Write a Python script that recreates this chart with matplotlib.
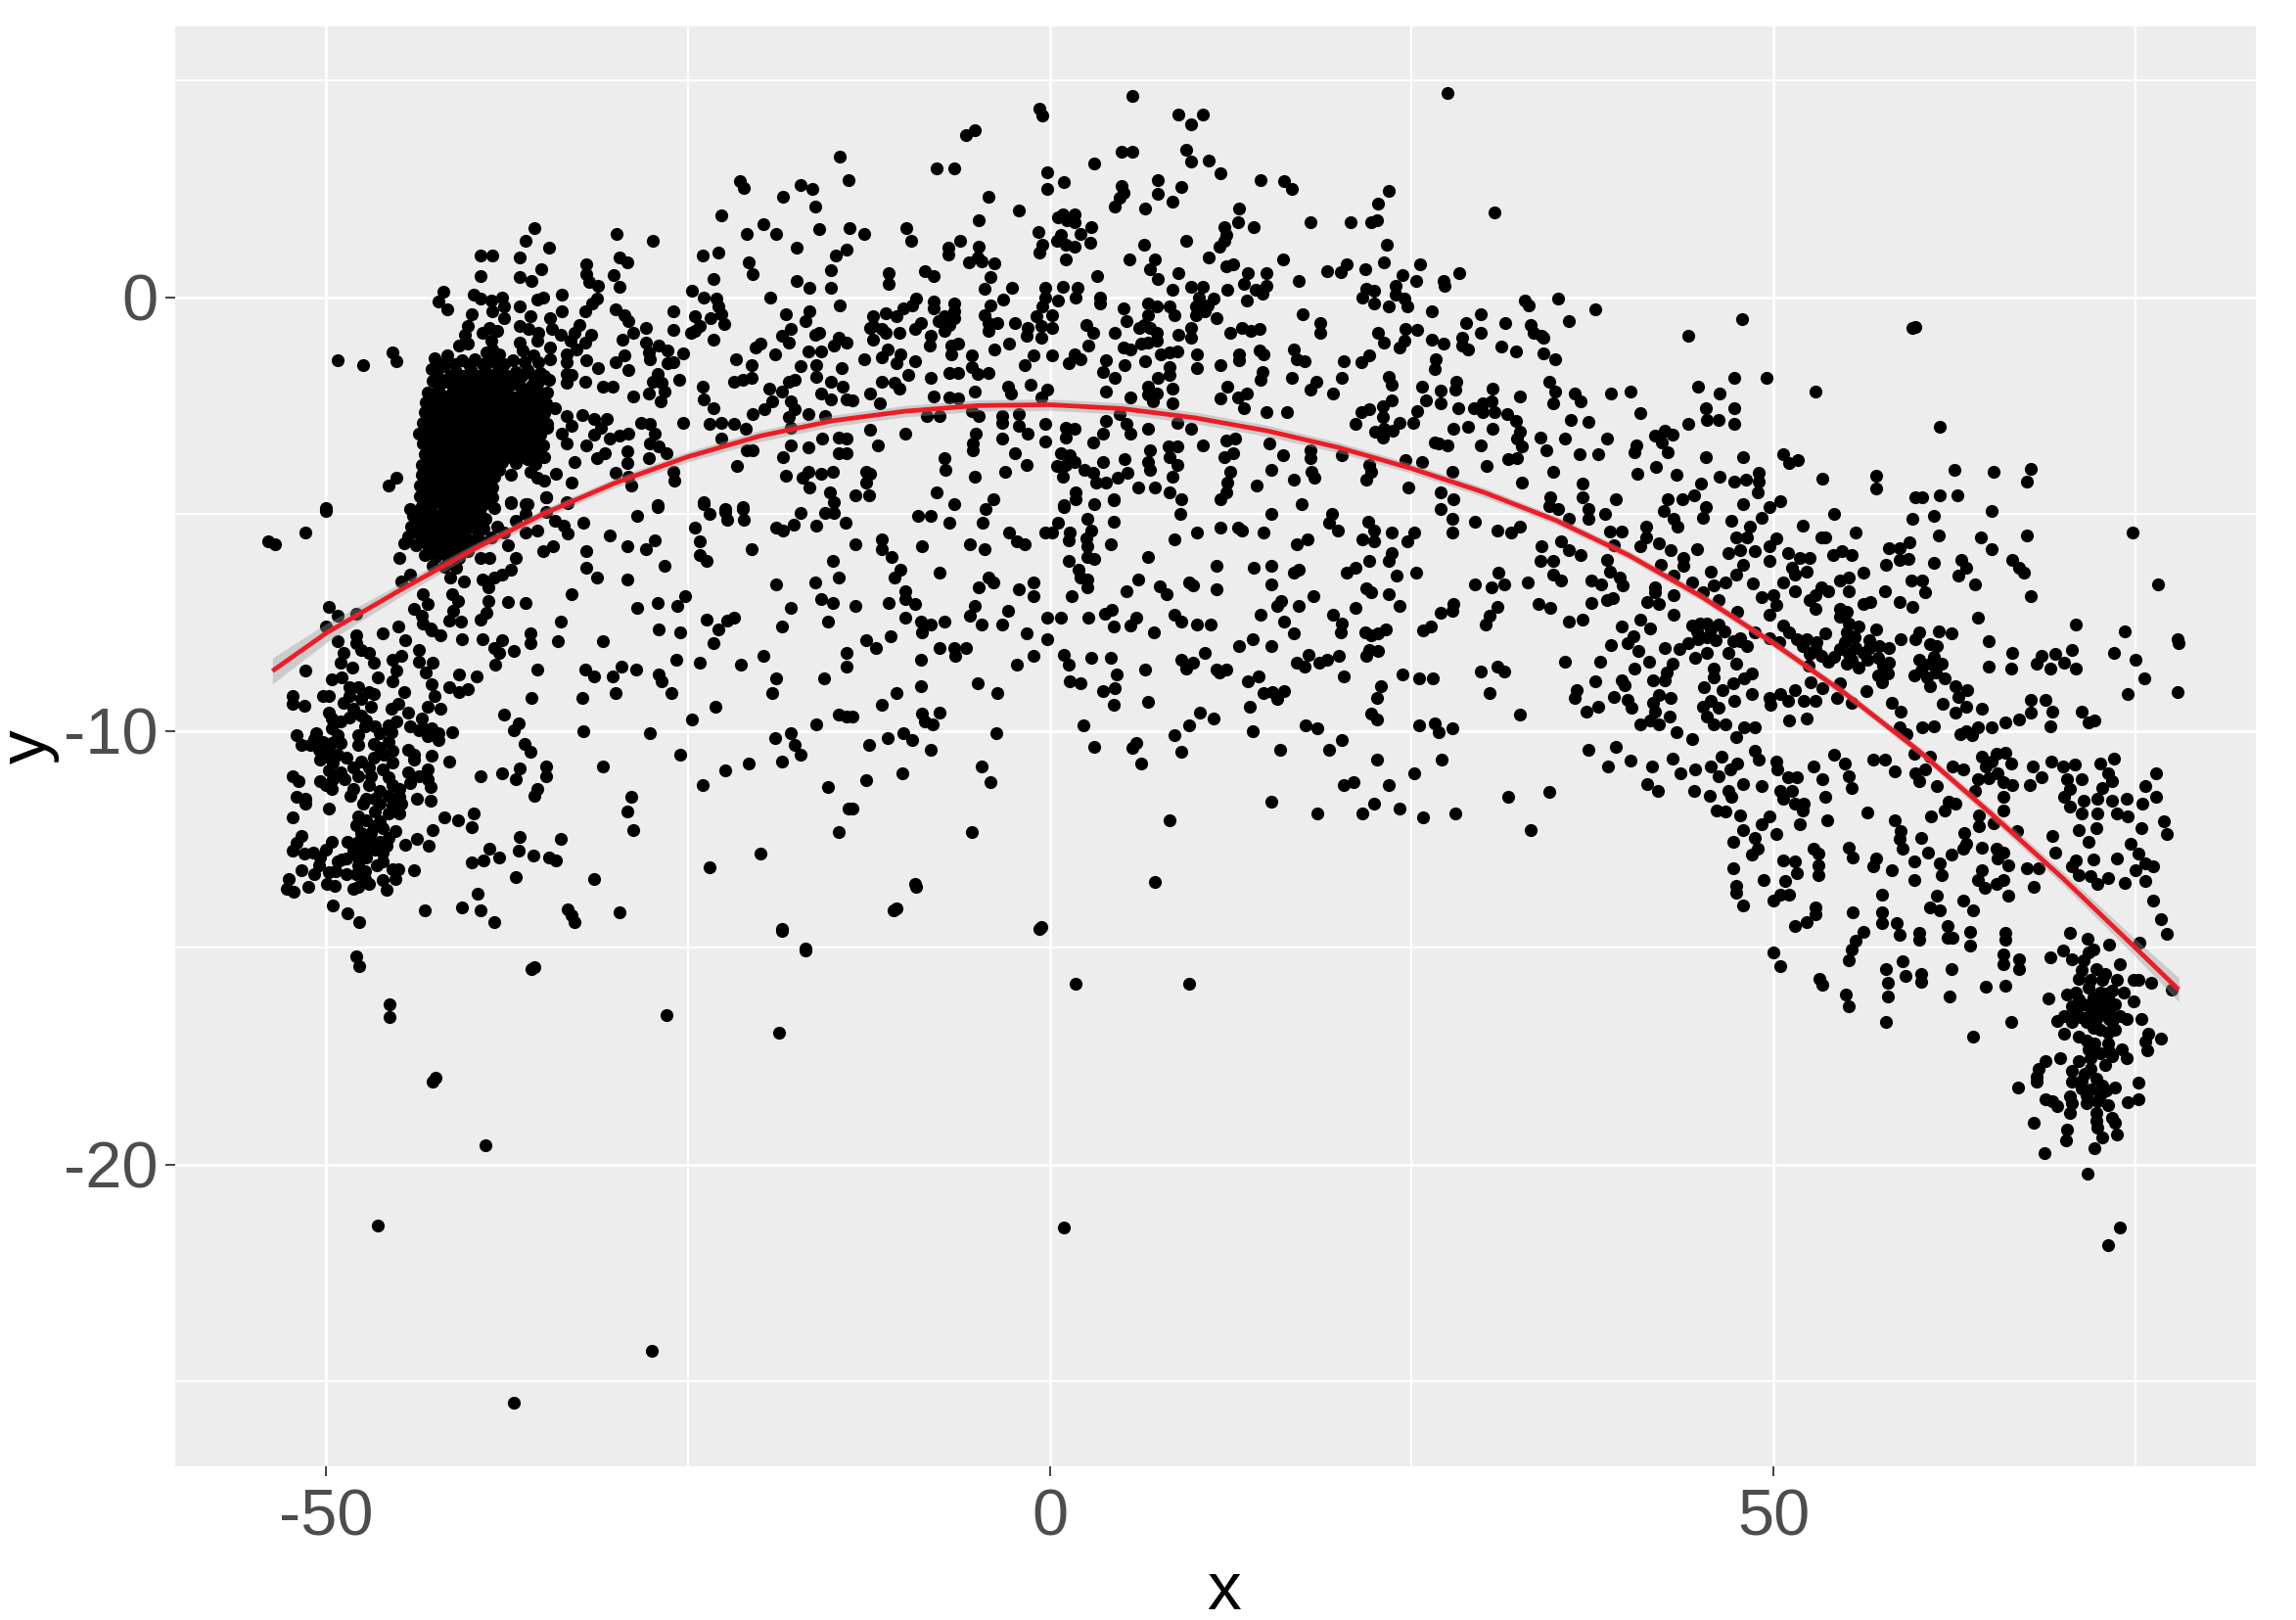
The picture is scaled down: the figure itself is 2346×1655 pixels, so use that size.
import matplotlib
matplotlib.use("Agg")
import matplotlib.pyplot as plt
import numpy as np

plt.rcParams["font.family"] = ["Liberation Sans", "DejaVu Sans"]

x_ticks = [-50, 0, 50]
x_tick_labels = ["-50", "0", "50"]
x_minor = [-25, 25, 75]
y_ticks = [0, -10, -20]
y_tick_labels = ["0", "-10", "-20"]
y_minor = [5, -5, -15, -25]

# smooth curve and its confidence band
curve_x = [-53.7, -50, -45, -40, -35, -30, -25, -20, -15, -10, -5, 0, 5, 10, 15, 20, 25, 30, 35, 40, 45, 50, 55, 60, 65, 70, 75, 78]
curve_y = [-8.62, -7.75, -6.78, -5.85, -5.0, -4.28, -3.68, -3.2, -2.85, -2.63, -2.5, -2.48, -2.57, -2.78, -3.08, -3.47, -3.95, -4.5, -5.15, -5.95, -6.9, -7.98, -9.15, -10.45, -11.9, -13.4, -15.0, -15.97]
curve_ci = [0.3, 0.22, 0.15, 0.12, 0.11, 0.11, 0.12, 0.13, 0.13, 0.13, 0.13, 0.13, 0.13, 0.13, 0.13, 0.12, 0.11, 0.11, 0.1, 0.1, 0.1, 0.1, 0.1, 0.1, 0.12, 0.15, 0.2, 0.28]

# points, region by region
top_left = [(-14.5,3.24),(-21.4,2.68),(-21.1,2.53),(-17.2,2.59),(-16.4,2.49),(-18.4,2.32),(-16.2,2.1),(-22.7,1.89),(-19.8,1.68),(-20.9,1.46),(-18.9,1.46),(-15.9,1.56),(-13.9,2.7),(-13.8,1.6),
(-35.6,1.6),(-36.2,1.29),(-34.6,1.14),(-39.3,.97),(-38.5,.97),(-36.6,.91),(-35.1,.65),(-39.3,.48),(-36.6,.46),(-35.8,.38),(-29.9,1.46),(-27.4,1.29),(-24,.97),(-22.9,1.02),(-29.7,.91),(-29.2,.8),(-32,.76),(-32,.53),(-31.8,.35),(-31.2,.27),(-30.1,.5),(-29.7,.25),
(-20.8,.8),(-20.5,.53),(-23.2,.42),(-24.7,.16),(-23.9,0),(-23,-.03),(-22.9,-.22),(-22.7,-.4),(-23.4,-.48),(-22.5,-.61),(-17.5,1.14),(-14.8,.97),(-14,1.1),(-15.1,.63),(-17.5,.37),(-16.6,.21),(-15.1,.21),(-19.3,0),(-14.5,-.18),
(-41.9,.12),(-42.2,-.1),(-41.6,-.28),(-39.8,.05),(-39.3,-.03),(-38.6,-.07),(-37.8,0),(-37.7,-.22),(-36.6,-.22),(-39.9,-.39),(-38.5,-.33),(-37.7,-.48),(-35.4,-.05),(-35,-.01),(-33.7,.05),(-33.7,-.33),(-32.1,-.33),(-31.3,-.03),(-31.6,-.14),(-30,-.29),(-29.4,-.41),(-29.1,-.56),(-28.8,-.82),(-27.9,-.71),(-29.5,-.98),(-31.7,-.87),(-26,-.33),(-26,-.76),(-24.5,-.43),(-24.5,-.78),(-24.2,-.67),(-24.8,-.83),(-23.2,-.98),
(-18.2,-.39),(-16.6,-.32),(-16.9,-.56),(-17.9,-.74),(-18.5,-.89),(-18,-1.05),(-20,-1.08),(-20.3,-1.15),(-19,-1.31),(-21.7,-1.42),(-20.6,-1.57),(-15.9,-.82),(-16.2,-.86),(-16.7,-1.26),(-15.8,-1.26),(-14.9,-1.12),(-14,-1.05),(-14.6,-.94),
(-16.1,-1.57),(-16.1,-1.83),(-17.2,-1.6),(-14.4,-1.63),(-17.6,-1.91),(-18,-1.95),(-20.6,-1.86),(-21.2,-1.91),(-21.8,-1.96),(-15.1,-1.95),(-14.3,-2.06),(-15.8,-2.21),(-15.1,-2.36),(-14,-2.36),
(-27.7,-1.27),(-27.9,-1.05),(-27,-1.12),(-26.4,-1.23),(-25.3,-1.29),(-26.4,-1.53),(-26,-1.5),(-27.6,-1.42),(-32,-1.46),(-31.2,-1.63),(-30,-1.51),(-29.4,-1.35),(-29.1,-1.68),(-32.1,-1.95),(-30.9,-2.06),(-30.2,-2.06),(-28.8,-2.29),(-27.1,-1.76),(-27.4,-1.95),(-26.8,-1.98),(-27.7,-2.23),(-26.6,-2.17),(-26.9,-2.4),(-25.6,-1.91),
(-24,-2.06),(-23.9,-2.36),(-23.2,-2.55),(-19.4,-2.1),(-18.5,-2.17),(-19.2,-2.4),(-17.9,-2.4),(-17.6,-2.59),(-18,-2.77),(-19.7,-2.59),(-20.5,-2.7),(-16.7,-2.7),(-15.5,-2.74),(-25.3,-2.89),(-23.5,-2.92),(-22.7,-2.89),(-21.8,-2.92),(-21,-3.04),(-22.7,-3.26),(-17.9,-3),(-20.9,-3.53),(-20.5,-3.53),(-21.6,-3.9),(-17.9,-3.41),(-16.7,-3.46),(-15.7,-3.26),(-14.6,-3.23),(-14,-3.26),(-14.6,-3.59),(-14,-3.6),(-18.4,-3.68),(-18.2,-4.11),(-17.1,-4.17),(-16.7,-4.02),(-15.8,-4.07),(-15,-4.02),(-16.6,-4.39),(-15.2,-4.5),(-14.9,-4.73),
(-34.2,-2.55),(-33.4,-2.74),(-34.7,-2.92),(-33,-2.96),(-33.7,-3.15),(-33.4,-3.38),(-32.3,-2.71),(-31.5,-2.81),(-30.6,-2.81),(-31,-3),(-31.5,-3.17),(-30.4,-3.26),(-29.7,-3.19),(-29.1,-3.15),(-28.2,-2.89),(-27.6,-2.92),(-27.3,-3.15),(-27.6,-3.38),(-27,-3.45),(-26.5,-3.6),(-27.7,-3.71),(-32,-3.41),(-29.2,-3.56),(-29.2,-3.83),(-30,-4.05),(-29.1,-4.13),(-28.9,-4.35),(-30.7,-3.6),(-31.3,-3.71),(-32.8,-3.8),(-34.1,-4.07),(-33,-4.28),(-35.9,-4.02),(-35.4,-4.17),(-34.9,-4.24),(-26,-4.02),(-25.9,-4.24),(-36.9,-3.83),(-37.2,-4.09),(-37.2,-4.73),(-36.1,-4.77),(-34.8,-4.62),(-33.4,-4.73),(-27.1,-4.8),(-23.9,-4.73),(-22.4,-4.88),(-21.2,-4.84),
(-49.2,-1.46),(-47.4,-1.57),(-45.4,-1.27),(-45.1,-1.48),(-45.1,-4.17),(-45.7,-4.35),(-50,-4.86),(-44.2,-4.88)]

dense_blob = [(-40.2,-.67),(-40.4,-.86),(-40.2,-1.08),(-40.8,-1.12),(-38.7,-.71),(-39.2,-.82),(-38.2,-.78),(-38.6,-1.01),(-38.5,-1.2),(-38.9,-1.27),(-38,-1.31),(-36.6,-.67),(-35.9,-.44),(-36,-.74),(-35.3,-.82),(-34.5,-.48),(-34.4,-.74),(-33.8,-.86),(-32.5,-.63),(-32.8,-.82),(-32.1,-1.05),(-33.1,-1.01),(-32.7,-1.2),(-33.4,-1.31),(-35.4,-1.01),(-36.6,-1.05),(-36.4,-1.23),(-35.7,-1.35),(-34.5,-1.16),(-34.5,-1.42),(-35.3,-1.5),(-36.3,-1.5),(-37.1,-1.46),(-33.4,-1.5),(-33.4,-1.76),(-33.4,-1.98),(-33,-1.8),
(-42.5,-1.4),(-41.6,-1.33),(-40.6,-1.45),(-39.7,-1.42),(-38.7,-1.48),(-37.7,-1.55),
(-42.7,-1.66),(-41.8,-1.6),(-41,-1.72),(-40,-1.68),(-39,-1.7),(-38.2,-1.75),(-36.9,-1.72),(-36.1,-1.68),(-35.2,-1.75),
(-42.6,-1.92),(-41.6,-1.96),(-40.7,-1.88),(-39.8,-1.94),(-38.9,-1.95),(-38,-1.98),(-37,-2),(-35.3,-1.95),(-34.6,-1.9),
(-43,-2.2),(-42.2,-2.14),(-41.3,-2.2),(-40.5,-2.16),(-39.6,-2.22),(-38.8,-2.15),(-37.9,-2.22),(-37.2,-2.3),(-36.3,-2.12),(-35.4,-2.14),(-34.7,-2.2),
(-43.1,-2.42),(-42.3,-2.38),(-41.5,-2.44),(-40.6,-2.4),(-39.8,-2.46),(-38.9,-2.4),(-38.1,-2.46),(-37.3,-2.52),(-36.5,-2.38),(-35.6,-2.4),(-34.8,-2.44),
(-43.2,-2.66),(-42.4,-2.6),(-41.6,-2.68),(-40.7,-2.64),(-39.9,-2.7),(-39,-2.64),(-38.2,-2.7),(-37.4,-2.68),(-36.6,-2.72),(-35.7,-2.66),(-34.9,-2.68),
(-43.3,-2.9),(-42.5,-2.86),(-41.7,-2.92),(-40.8,-2.88),(-40,-2.94),(-39.1,-2.88),(-38.3,-2.94),(-37.5,-2.9),(-36.7,-2.96),(-35.8,-2.9),(-35,-2.94),
(-43.6,-3.14),(-42.7,-3.1),(-41.9,-3.16),(-41,-3.12),(-40.2,-3.18),(-39.3,-3.12),(-38.5,-3.18),(-37.7,-3.14),(-36.9,-3.2),(-36,-3.14),(-35.2,-3.18),
(-43.3,-3.38),(-42.5,-3.34),(-41.7,-3.4),(-40.8,-3.36),(-40,-3.42),(-39.1,-3.36),(-38.3,-3.42),(-37.5,-3.38),(-36.6,-3.44),(-35.8,-3.38),(-35,-3.42),
(-43.2,-3.62),(-42.4,-3.58),(-41.6,-3.64),(-40.7,-3.6),(-39.9,-3.66),(-39,-3.6),(-38.2,-3.66),(-37.4,-3.62),(-36.6,-3.68),(-35.6,-3.62),(-34.9,-3.68),
(-43.4,-3.86),(-42.6,-3.82),(-41.8,-3.88),(-40.9,-3.84),(-40.1,-3.9),(-39.2,-3.84),(-38.4,-3.9),(-37.8,-3.8),(-35.5,-3.85),
(-43.4,-4.1),(-42.6,-4.06),(-41.8,-4.12),(-40.9,-4.08),(-40.1,-4.14),(-39.2,-4.08),(-38.4,-4.14),
(-43.5,-4.34),(-42.7,-4.3),(-41.9,-4.36),(-41,-4.32),(-40.2,-4.38),(-39.3,-4.32),(-38.5,-4.38),
(-43.5,-4.58),(-42.7,-4.54),(-41.9,-4.6),(-41,-4.56),(-40.2,-4.62),(-39.3,-4.56),(-38.5,-4.62),
(-43.4,-4.82),(-42.6,-4.78),(-41.8,-4.84),(-40.9,-4.8),(-40.1,-4.86),(-39.2,-4.8),(-38.4,-4.86),
(-44,-5.04),(-43.2,-5),(-42.4,-5.06),(-41.5,-5.02),(-40.7,-5.08),(-39.8,-5.02),(-39,-5.1),
(-44.1,-5.28),(-43.3,-5.24),(-42.5,-5.3),(-41.6,-5.26),(-40.8,-5.32),(-39.9,-5.26),(-39.1,-5.34),(-38.2,-5.3),
(-44.3,-5.52),(-43.5,-5.48),(-42.7,-5.54),(-41.8,-5.5),(-41,-5.56),(-40.2,-5.58),(-39.4,-5.6),(-38.6,-5.55),
(-43.8,-5.72),(-43,-5.72),(-42.2,-5.78),(-41.4,-5.74),(-40.6,-5.8),(-43.2,-5.95),(-42.4,-6),(-41.6,-5.98),(-40.8,-6.02),(-42.6,-6.2),(-41.8,-6.22),(-41,-6.25),
(-44.6,-5.68),(-44.9,-6.02),(-44.2,-6.4),(-44.8,-6.55)]

# between the rows above the blob is solid black, so these are estimates
blob_fill = [(-42.1,-1.55),(-41.1,-1.55),(-40.1,-1.55),(-39.2,-1.55),(-38.2,-1.55),
(-42.3,-1.82),(-41.4,-1.82),(-40.5,-1.82),(-39.5,-1.82),(-38.6,-1.82),(-37.5,-1.82),(-36.5,-1.82),(-35.7,-1.82),(-34.9,-1.82),
(-42.2,-2.05),(-41.1,-2.05),(-40.2,-2.05),(-39.3,-2.05),(-38.4,-2.05),(-37.5,-2.05),(-36.6,-2.05),(-35.8,-2.05),
(-42.7,-2.3),(-41.8,-2.3),(-40.9,-2.3),(-40.1,-2.3),(-39.2,-2.3),(-38.4,-2.3),(-37.6,-2.3),(-36.7,-2.3),(-35.9,-2.3),(-35,-2.3),
(-42.8,-2.54),(-41.9,-2.54),(-41.1,-2.54),(-40.2,-2.54),(-39.4,-2.54),(-38.5,-2.54),(-37.7,-2.54),(-36.9,-2.54),(-36.1,-2.54),(-35.2,-2.54),
(-42.9,-2.78),(-42,-2.78),(-41.2,-2.78),(-40.3,-2.78),(-39.5,-2.78),(-38.6,-2.78),(-37.8,-2.78),(-37,-2.78),(-36.2,-2.78),(-35.3,-2.78),
(-43.1,-3.02),(-42.2,-3.02),(-41.4,-3.02),(-40.5,-3.02),(-39.7,-3.02),(-38.8,-3.02),(-38,-3.02),(-37.2,-3.02),(-36.4,-3.02),(-35.5,-3.02),(-34.7,-3.02),
(-43.1,-3.26),(-42.2,-3.26),(-41.3,-3.26),(-40.4,-3.26),(-39.6,-3.26),(-38.7,-3.26),(-37.9,-3.26),(-37.1,-3.26),(-36.3,-3.26),(-35.4,-3.26),
(-42.9,-3.5),(-42,-3.5),(-41.2,-3.5),(-40.3,-3.5),(-39.5,-3.5),(-38.6,-3.5),(-37.8,-3.5),(-37,-3.5),(-36.2,-3.5),(-35.4,-3.5),
(-42.9,-3.74),(-42,-3.74),(-41.2,-3.74),(-40.3,-3.74),(-39.5,-3.74),(-38.6,-3.74),(-37.8,-3.74),(-37,-3.74),(-36.1,-3.74),
(-43,-3.98),(-42.2,-3.98),(-41.3,-3.98),(-40.5,-3.98),(-39.6,-3.98),(-38.8,-3.98),(-38,-3.98),
(-43,-4.22),(-42.2,-4.22),(-41.3,-4.22),(-40.5,-4.22),(-39.7,-4.22),(-38.8,-4.22),
(-43.1,-4.46),(-42.3,-4.46),(-41.4,-4.46),(-40.6,-4.46),(-39.8,-4.46),(-38.9,-4.46),
(-43,-4.7),(-42.2,-4.7),(-41.4,-4.7),(-40.5,-4.7),(-39.7,-4.7),(-38.8,-4.7),
(-43.6,-4.92),(-42.8,-4.92),(-41.9,-4.92),(-41.1,-4.92),(-40.3,-4.92),(-39.4,-4.92),
(-43.7,-5.16),(-42.9,-5.16),(-42,-5.16),(-41.2,-5.16),(-40.3,-5.16),(-39.5,-5.16),
(-43.9,-5.4),(-43,-5.4),(-42.1,-5.4),(-41.2,-5.4),(-40.4,-5.4),(-39.5,-5.4),
(-43.4,-5.62),(-42.5,-5.62),(-41.6,-5.62),(-40.8,-5.62),(-39.8,-5.62),
(-42.8,-5.85),(-41.9,-5.85),(-41,-5.85),(-40.2,-5.85)]

left_low = [(-50,-4.92),(-51.4,-5.43),(-54,-5.64),(-53.5,-5.7),(-41.4,-6.47),(-40.5,-6.55),(-43.3,-6.85),(-43,-7.08),(-41.3,-6.85),(-40.9,-7),(-41.2,-7.23),(-41.5,-7.45),(-40.7,-7.49),(-39.2,-6.51),(-38.8,-6.7),(-38.8,-7),(-38.9,-7.28),(-39.3,-7.43),(-43.9,-7.19),(-43.4,-7.34),(-43.3,-7.53),(-42.7,-7.68),(-42.1,-7.79),(-42.8,-7.64),(-40.6,-7.88),(-39.2,-7.88),(-37.8,-7.92),(-38.4,-8.09),(-38,-8.21),(-38.3,-8.47),(-37,-8.15),(-40.8,-8.7),(-39.6,-8.75),(-41.5,-9),(-40.8,-9.11),(-40.2,-9.04),
(-37.7,-5.42),(-37.4,-5.72),(-36.9,-6.02),(-37.8,-6.4),(-38.4,-6.47),(-37.2,-6.28),(-39.3,-6.02),(-38.7,-6.02),(-37.2,-4.74),(-36.2,-4.77),(-34.8,-4.62),(-33.3,-4.74),(-36.9,-5.15),(-36.2,-5.42),(-35.4,-5.38),(-36.2,-5),(-34.8,-4.96),(-34.2,-5.15),(-33.6,-5.26),(-33.3,-5.45),
(-49.8,-7.15),(-49.2,-7.34),(-47.9,-7.3),(-50,-7.59),(-49.2,-7.94),(-47.9,-7.79),(-47.9,-7.98),(-46.1,-7.75),(-45,-7.6),(-44.5,-7.9),(-43.6,-8.13),(-43.6,-8.4),(-42.6,-8.42),(-47.6,-8.13),(-47,-8.21),(-46.7,-8.43),(-46.4,-8.77),(-45.4,-8.36),(-44.8,-8.28),(-45.1,-8.62),(-45.4,-8.85),(-43.1,-8.66),(-42.7,-8.92),(-42.5,-9.19),(-42.1,-9.49),
(-49,-8.43),(-48.2,-8.55),(-49.6,-8.81),(-48.9,-8.77),(-51.4,-8.62),(-52.3,-9.19),(-52.3,-9.38),(-51.5,-9.42),(-50.2,-9.19),(-49.8,-9.19),(-48.4,-9),(-47.8,-9),(-47,-9.11),(-46.7,-9.15),(-47.6,-9.26),(-48.4,-9.19),(-49.8,-9.57),(-49.6,-9.72),(-49,-9.79),(-48.1,-9.49),(-47.6,-9.64),(-47.2,-9.75),(-47.3,-9.9),(-45.5,-9.49),(-45,-9.38),(-44.3,-9.57),(-45.1,-9.79),(-45.7,-9.87),(-43,-9.45),(-43.4,-9.72),(-43.3,-9.94),(-42.7,-9.94),(-42.2,-10.06),(-43,-10.13),(-43.6,-9.98),(-41.3,-10.02),(-42.2,-10.21),
(-52,-10.09),(-50.7,-10.06),(-51.7,-10.32),(-51.1,-10.32),(-49.6,-9.94),(-49.2,-10.09),(-50.2,-10.25),(-49.6,-10.28),(-49,-10.28),(-50.5,-10.43),(-49.8,-10.47),(-49.2,-10.55),(-48.6,-10.62),(-50.4,-10.66),(-49.5,-10.74),(-49.8,-10.92),(-50.4,-11.15),(-49.5,-11.11),(-49.6,-11.34),(-48.7,-11.11),
(-47.8,-10.09),(-47.8,-10.32),(-46.3,-10.06),(-45.5,-10.02),(-45.7,-10.25),(-46.3,-10.4),(-46.7,-10.62),(-47.6,-10.7),(-48.1,-10.85),(-47,-10.85),(-46,-10.55),(-45.4,-10.47),(-45.4,-10.74),(-46.1,-10.89),(-46.9,-11.04),(-47.8,-11.04),(-45.7,-11.08),(-44.3,-10.43),(-43.9,-10.55),(-43.9,-10.66),(-42.7,-10.58),(-41.5,-10.7),(-43,-10.89),(-43.6,-11.04),(-44.3,-10.96),(-43,-11.11),(-42.8,-11.3),(-42.8,-11.6),(-43.7,-11.57),
(-52.3,-11.04),(-51.9,-11.15),(-52,-11.51),(-51.4,-11.57),(-51.4,-11.68),(-49.8,-11.79),(-52.3,-12),(-48.1,-11.34),(-47,-11.26),(-46.3,-11.38),(-45.4,-11.26),(-44.9,-11.34),(-47.2,-11.57),(-46.6,-11.57),(-45.7,-11.49),(-44.9,-11.53),(-47.4,-11.68),(-46.3,-11.68),(-45.4,-11.72),(-44.8,-11.68),(-45.7,-11.91),(-44.9,-11.91),(-46.6,-11.87),
(-47.8,-11.98),(-47.2,-12.06),(-47.9,-12.17),(-46.3,-12.09),(-46.1,-12.25),(-47.6,-12.36),(-46.9,-12.36),(-45.2,-12.32),(-48.5,-12.55),(-47.8,-12.55),(-47,-12.55),(-46.3,-12.55),(-45.7,-12.47),(-48.1,-12.74),(-47.3,-12.74),(-46.6,-12.74),(-45.8,-12.66),(-47.8,-12.92),(-47.2,-12.92),(-46.1,-12.81),(-46.1,-13),
(-47.8,-13.11),(-47.3,-13.23),(-47.9,-13.3),(-47.3,-13.42),(-45.4,-13.19),(-45,-13.19),(-45.2,-13.42),(-47.8,-13.6),(-47,-13.53),(-48.1,-13.64),(-46.1,-13.45),(-45.8,-13.66),(-51.7,-12.43),(-52,-12.58),(-52.3,-12.77),(-51.5,-12.83),(-49.6,-12.55),(-50,-12.74),(-50.4,-12.92),(-50.5,-13.11),(-49.2,-13),(-48.9,-12.96),(-49.3,-13.23),(-49.8,-13.26),(-51.7,-13.21),(-52.6,-13.42),(-52.7,-13.64),(-52.2,-13.7),(-51.2,-13.59),(-49.9,-13.53),(-49.4,-13.58),
(-50.8,-10.2),(-50,-10.6),(-49,-10.95),(-50,-11.25),(-48.4,-9.7),(-48.8,-9.35),(-46.9,-9.45),(-46.6,-9.9),(-46.7,-10.3),(-48.3,-11.5),(-48.6,-12.95),(-48.6,-13.3),(-46.5,-13.1),(-46.7,-12.2),(-44.2,-11.2),(-44.2,-9.9),(-44.6,-9.1),(-48.8,-8.2),(-50.8,-13.3),(-50.9,-12.8)]

low_left_sparse = [(-32.2,-5.21),(-30.4,-5.49),(-28.5,-5.05),(-27.1,-4.83),(-27.3,-5.6),(-27.9,-5.82),(-29.2,-5.75),(-32,-5.85),(-34.3,-5.75),(-35,-5.85),(-24.5,-5.32),(-24.2,-5.64),(-24.2,-5.94),(-23.7,-6.09),(-20.6,-5.82),(-26.6,-6.19),(-32,-6.25),(-31.3,-6.46),(-29.2,-6.52),(-33,-6.85),(-23.9,-4.77),(-23.5,-5),(-22.4,-4.96),(-22.3,-5.13),(-21.2,-4.89),(-21.1,-5.13),(-18.9,-5.32),(-18.4,-5.38),(-17.7,-5.25),(-17.2,-4.98),(-16.1,-5.26),(-15.5,-4.98),(-14.9,-4.98),(-14.1,-5.19),(-15,-6.08),(-14.6,-6.46),(-16.2,-6.58),(-18.9,-6.62),(-15.8,-6.96),(-15,-7.06),(-17.9,-7.17),(-18.5,-7.6),(-15.3,-7.49),
(-25.2,-6.89),(-25.7,-7.11),(-27.1,-7.06),(-28.5,-7.17),(-27,-7.66),(-25.5,-7.72),(-23.7,-7.44),(-22.3,-7.45),(-21.8,-7.38),(-22.9,-7.66),(-23.2,-7.98),(-30.9,-7.93),(-34,-7.93),(-33.8,-7.49),(-35.9,-7.75),(-35.9,-7.98),(-37.4,-7.02),(-36.2,-7.06),(-25.8,-8.36),(-24.2,-8.42),(-21.3,-8.47),(-19.8,-8.26),(-18.9,-8.8),(-15.6,-8.8),(-19.2,-9.13),(-14,-8.2),(-14,-8.52),(-32.1,-8.58),(-31.5,-8.75),(-29.6,-8.52),(-30.2,-8.75),(-28.6,-8.58),(-27,-8.7),(-26.8,-8.85),(-26.1,-9.13),(-35.4,-8.58),(-30,-9.13),(-32.3,-9.23),(-35.8,-9.23),
(-23.1,-9.45),(-24.7,-9.73),(-27.6,-10.06),(-32.2,-10),(-37.7,-9.62),(-36.7,-9.83),(-37,-9.98),(-14.6,-9.62),(-14,-9.66),(-16.1,-9.84),(-17.9,-10.06),(-19,-10.17),(-17.6,-10.32),(-17.2,-10.55),(-18.5,-10.7),(-25.5,-10.55),(-20.8,-10.76),(-22.4,-10.92),(-30.9,-10.81),(-24,-11.25),(-15.3,-11.3),(-28.9,-11.53),(-29.2,-11.85),(-28.8,-12.28),(-13.9,-11.79),(-14.6,-12.34),(-20,-12.83),(-23.5,-13.15),(-36.3,-10.31),(-35.9,-10.49),(-34.8,-10.81),(-34.8,-11.04),(-36.6,-10.86),(-36.9,-11.11),(-37.8,-10.98),(-39.3,-11.04),(-35.4,-11.34),(-35.6,-11.49),
(-39.8,-11.91),(-41.8,-12),(-40.9,-12.07),(-39.9,-12.22),(-42.6,-12.28),(-36.6,-12.45),(-33.8,-12.49),(-43.7,-12.49),(-44.5,-12.62),(-42.9,-12.66),(-38.7,-12.71),(-36.7,-12.77),(-35.7,-12.87),(-34.6,-12.92),(-34.1,-12.98),(-38,-12.92),(-39.1,-12.98),(-39.9,-13.04),(-43.9,-13.21),(-36.9,-13.38),(-31.5,-13.42),(-39.5,-13.75),(-43.2,-14.13),(-40.6,-14.08),(-39.3,-14.13),(-38.4,-14.4),(-33.3,-14.12),(-33,-14.25),(-32.8,-14.41),(-29.7,-14.18),(-49.5,-14.02),(-48.5,-14.21),(-47.7,-14.4),(-18.5,-14.62),(-16.9,-15.06),(-47.9,-15.21),(-47.7,-15.42),(-35.8,-15.49),
(-46.4,-21.4),(-27.5,-24.3),(-37,-25.5),(-45.6,-16.3),(-45.6,-16.6),(-42.6,-18.1),(-42.4,-18),(-39,-19.55),(-35.6,-15.45),(-26.5,-16.55),(-18.7,-16.95),(-18.5,-14.56),(-16.9,-15.03),(-9.2,-13.6),(-10.6,-14.1)]

top_mid = [(5.7,4.65),(27.5,4.71),(8.9,4.22),(10.6,4.22),(9.8,3.99),(-.7,4.35),(-.5,4.2),(-5.2,3.84),(-5.8,3.73),(-7.8,2.98),(-6.6,2.98),(5,3.35),(5.7,3.35),(9.4,3.41),(9.8,3.13),(11,3.14),(11.8,2.86),(3.1,3.09),(-.2,2.88),(1,2.65),(-.2,2.49),(14.6,2.71),(16.2,2.68),(16.7,2.49),(23.4,2.44),(22.7,2.15),(22.6,1.77),(22.2,1.72),(30.7,1.95),(-4.2,2.32),(-2.1,2),(-4.9,1.78),(7.5,2.71),(7.5,2.38),(9.1,2.54),(8.5,2.21),(6.6,2.05),(5,2.56),(5.1,2.41),(4.8,2.3),(4.5,2.1),(13.1,2.05),(13,1.72),(12.1,1.62),(14.1,1.62),(12.2,1.44),(12.1,1.29),(11.7,1.17),(18,1.72),(20.8,1.72),(23.3,1.2),(23.1,.8),
(.9,1.92),(1.7,1.92),(1.2,1.77),(1.7,1.74),(.6,1.85),(2.9,1.62),(-.8,1.51),(2.1,1.46),(.8,1.44),(.5,1.29),(1.1,1.21),(1.7,1.17),(-.5,1.21),(-.7,1.02),(2.8,1.25),(1.1,.86),(6.5,1.2),(5.5,.86),(9.4,1.29),(7.3,.87),(6.9,.65),(7.5,.42),(8.9,.55),(11,.91),(12.2,.71),(12.7,.76),(16.1,.86),(3.3,.48),
(-9.9,1.59),(-9.6,1.29),(-12.8,1.46),(-6.2,1.29),(-7,1.14),(-7,.98),(-4.9,1.17),(-5,.91),(-5.6,.8),(-4.7,.83),(-11.1,.56),(-11.1,.31),(-8.6,.61),(-8,.48),(-3.8,.77),(-4.1,.46),(-4.5,.2),(-2.6,.22),(-.3,.22),(.9,.23),(1.9,.22),(1.8,0),(.6,-.07),(-.3,0),(3.5,0),(3.5,-.14),(8.5,.17),(9.8,.23),(10.6,.23),(10.3,0),(11.3,-.03),(10.9,-.18),(10.1,-.22),(10.1,-.41),(10.7,-.33),(12.3,.17),(13.7,.55),(15,.55),(13.4,.31),(15,.27),(14.2,.17),(14.7,.08),(13.6,-.07),(17.2,.38),(19.2,.59),(20.1,.57),(20.5,.76),(21.8,.65),(21.9,.2),(22.4,.16),(21.6,0),(22.4,-.14),(24.4,.5),(23.9,.27),(23.9,.05),(24.5,-.03),(23.4,-.22),(24.7,-.22),(25.6,.76),(25.3,.38),(27.2,.38),(27.3,.27),(28.3,.55),(26.4,-.33),(29.8,-.39),(28.8,-.59),(31.5,-.59),(29.8,-.82),(32.8,-.07),(33.1,-.18),(33.2,-.63),(33.4,-.82),(17.5,-.39),(18.7,-.59),(18.7,-.82),
(-9.2,-.03),(-9.5,-.18),(-10.1,-.26),(-10.6,-.44),(-11.3,-.37),(-12.2,-.44),(-12.2,-.67),(-11.6,-.74),(-11.3,-.82),(-10.4,-.82),(-12.4,-.71),(-12.2,-.97),(-8,-.1),(-8,-.26),(-6.6,-.14),(-6.6,-.33),(-7.3,-.44),(-6.6,-.48),(-7.7,-.56),(-6.9,-.63),(-7.3,-.78),(-8.9,-.59),(-9.3,-.73),(-8.2,-.89),(-8.3,-1.12),(-4.1,-.18),(-3.2,-.05),(-4.5,-.41),(-4.2,-.59),(-3.6,-.59),(-4.2,-.78),(-2.4,-.59),(-1.5,-.71),(-1.6,-.89),(-.9,-.44),(-.6,-.67),(-.6,-.93),(.2,-.71),(.2,-.41),(-.5,-.22),(2.5,-.63),(3,-.82),(2.7,-1.12),(4.5,-.82),(5.1,-.26),(5.3,-.56),(6.8,-.14),(7.4,-.22),(8.3,-.22),(8.6,-.41),(6.8,-.41),(6.5,-.63),(6.9,-.71),(6.2,-.71),(7.4,-.82),(7.4,-1.01),(6.8,-1.05),(6.3,-1.08),(8.9,-.86),(9.8,-.71),(9.8,-.93),(11.5,-.48),(12.5,-.82),(13.3,-.71),(13.9,-.78),(14.5,-.74),(5.1,-1.16),(5.6,-1.2),(7.7,-1.31),(8.3,-1.27),(8.8,-1.26),(10.2,-1.31),(10.2,-1.63),(13.1,-1.31),(13.1,-1.46),(14.5,-1.23),(14.8,-1.31),(11.8,-1.57),(14.7,-1.72),(14.6,-1.91),(16.9,-1.2),(17.1,-1.42),(17.6,-1.48),(20.3,-1.47),(22.1,-1.35),(21.5,-1.51),(16.7,-1.85),(20.2,-1.85),(18.4,-1.95),(18,-2.12),(19.6,-2.23),
(22.7,-.82),(23.1,-1.05),(24.6,-.74),(24.5,-1.01),(24.2,-1.16),(25.4,-.76),(26.4,-.97),(27.2,-1.08),(28.5,-.93),(28.5,-1.12),(28.9,-1.21),(31.2,-1.14),(32.2,-1.26),(26.7,-1.42),(26.6,-1.65),
(-12.8,-1.42),(-11.6,-1.38),(-11.2,-1.2),(-10.3,-1.31),(-10.6,-1.53),(-9.3,-1.47),(-6.8,-1.12),(-6.3,-1.08),(-6.8,-1.31),(-3.8,-1.2),(-2.8,-1.08),(-5.4,-1.35),(-5.4,-1.61),(-5,-1.76),(-4.2,-1.74),(-6.9,-1.74),(-6.3,-1.74),(-1.1,-1.35),(-1.7,-1.57),(.2,-1.35),(1.7,-1.31),(1.3,-1.53),(2.1,-1.42),(3.9,-1.46),(5.2,-1.57),(3.7,-1.72),(4.5,-1.85),(6.6,-1.47),(8.3,-1.61),(8.3,-1.8),(7.5,-1.85),
(-9.8,-1.8),(-11.6,-1.95),(-10.7,-1.98),(-10.4,-2.1),(-8.2,-1.85),(-12.4,-2.21),(-11.7,-2.44),(-13.6,-2.38),(-8,-2.29),(-6.9,-2.32),(-6.3,-2.34),(-5.2,-2.17),(-2.9,-2.06),(-2.7,-2.21),(-1.3,-2.01),(-.2,-2.14),(-.6,-2.32),(3.9,-2.17),(5.6,-2.32),(6.8,-2.06),(6.8,-2.25),(7.4,-2.21),(8.5,-2.1),(7.1,-2.4),(8.5,-2.44),(12.3,-2.06),(11.8,-2.34),(13.6,-2.21),(13,-2.32),(13.4,-2.55),(15,-2.66),(16.4,-2.66),(23.4,-1.83),(23.6,-2.02),(25.7,-2.06),(27,-2.16),(28.1,-1.95),(28,-2.14),(30.6,-2.11),(32.5,-2.29),(26,-2.38),(27,-2.44),(23.6,-2.38),(23,-2.51),(28.2,-2.55),(29.3,-2.55),(29.9,-2.44),(30.5,-2.4),(29.9,-2.66),(30.7,-2.66),(31.6,-2.7),(32.2,-2.85),(32.5,-3.11),(21.5,-2.66),(22.1,-2.59),(21.1,-2.92),(23,-2.77),(23.1,-3.04),(22.5,-3.11),(23.7,-3.08),(23,-3.23),(24.2,-2.89),(25.1,-2.89),(25.4,-2.62)]

under_curve = [(-12.4,-3.06),(-10,-3.15),(-11.9,-3.41),(-8.5,-2.74),(-7.6,-2.74),(-5.4,-2.62),(-4.9,-2.74),(-3.3,-2.74),(-3.3,-2.89),(-2.1,-2.7),(-2.1,-2.96),(-1.5,-3.15),(-.3,-2.92),(-.3,-3.32),(1.1,-3),(1.1,-3.23),(1.7,-3.04),(3.9,-2.85),(3.7,-3.15),(3,-3.36),(4.8,-2.7),(5.3,-2.92),(5.6,-3.15),(6.8,-3.04),(8.8,-2.89),(9.8,-3.04),(10.6,-3.41),(-5.1,-3.15),(-5.3,-3.38),(-5.3,-3.53),(-3.3,-3.26),(-2.4,-3.59),(-1.6,-3.86),(-7.3,-3.71),(-7.2,-3.98),(-5.2,-4.13),(-3.1,-4.02),(-12.7,-4.02),(-12.4,-4.07),(-12.7,-4.28),(-13.4,-4.56),(-12.5,-4.56),(-7.8,-4.49),(-6.6,-4.77),(-3.9,-4.65),
(.8,-3.6),(1.4,-3.64),(.5,-3.9),(1.1,-3.86),(1.7,-3.79),(.9,-4.13),(2.4,-3.98),(3,-4.05),(3.2,-4.28),(3.9,-4.28),(4.7,-4.17),(5.4,-4.05),(3.7,-3.79),(5.2,-3.74),(1.8,-4.5),(1.8,-4.65),(3.1,-4.77),(4.4,-4.65),(1,-4.8),(6.1,-4.39),(7.3,-4.39),(8.3,-4.5),(9.1,-4.65),(6.9,-3.53),(6.8,-3.79),(6.9,-3.98),(8.2,-3.45),(8.8,-3.45),(8.3,-3.68),(8.8,-3.86),(8.5,-4.13),(12.2,-3.3),(12.8,-3.26),(12.1,-3.68),(12.7,-3.6),(12.5,-4.02),(12.3,-4.28),(12.2,-4.5),(11.8,-4.65),(14.3,-4.34),(15.3,-3.98),(15.2,-3.38),(16.1,-3.64),(16.9,-4.2),(17.4,-4.77),(18,-3.53),(18,-3.71),(18.1,-4.02),(18.3,-4.17),(20.2,-3.64),(22.1,-3.86),(22.2,-4.02),(21.9,-4.2),(24.8,-4.39),(25.7,-3.79),(24.6,-3.75),(26.9,-3.38),(27.5,-3.41),(26.6,-3.36),(27.8,-4.02),(27,-4.5),(27.9,-4.65),(27.9,-3.04),(28.9,-2.98),(30.6,-3.04),(29.8,-3.41),(30.2,-3.9),(31.7,-3.74),(32.3,-3.71),(32.6,-3.45),(32.3,-3.26),(32.6,-4.28),
(-9.1,-5.04),(-8.2,-5.05),(-6.9,-5.21),(-4.6,-5.21),(-4.4,-4.89),(-11.6,-5.58),(-11.6,-5.82),(-10.9,-5.98),(-13.4,-5.7),(-8.8,-5.75),(-5.5,-5.7),(-4.5,-5.82),(-2.8,-5.42),(-2.3,-5.64),(-1.7,-5.7),(-.3,-5.43),(.2,-5.43),(.6,-5.21),(1,-4.83),(1.4,-5.42),(1.3,-5.6),(2.6,-5.1),(2.9,-5.38),(2.5,-5.57),(2.6,-5.75),(2.6,-5.98),(3.1,-6.03),(4.4,-4.68),(4.4,-5.17),(4.2,-5.7),(9,-5),(10.2,-5.43),(8.6,-5.58),(6.8,-5.98),(11.8,-5.32),(13,-5.32),(13.3,-5.38),(14.8,-5.43),(15.3,-5),(19.5,-5),(19.3,-5.21),(19.9,-5.38),(17.8,-5.59),(17.1,-5.7),(22,-5.17),(22.4,-5.38),(21.6,-5.59),(22.4,-5.64),(23.6,-5.43),(25.2,-5.43),(24.7,-5.64),(27,-4.89),(27.8,-5.11),(27.8,-5.43),(29.4,-5.17),(30.9,-5.38),(31.9,-5.43),(32.5,-5.3),
(-10.3,-6.28),(-10.7,-6.47),(-7.6,-6.36),(-10,-6.77),(-10,-6.96),(-9.3,-7.08),(-11.1,-7.06),(-13.4,-7.11),(-10,-7.39),(-8.9,-7.49),(-8.2,-7.54),(-7.3,-7.49),(-8.8,-7.72),(-5.2,-7.11),(-5.5,-7.34),(-4.7,-7.54),(-3.3,-7.54),(-2.9,-7.23),(-4.2,-6.46),(-3.9,-6.58),(-4.9,-6.68),(-2.1,-6.74),(-1.1,-6.57),(-1.1,-6.89),(1.3,-6.08),(2,-6.28),(2.1,-6.47),(2.6,-6.51),(2.6,-6.7),(1.5,-6.89),(6.1,-6.52),(5.3,-6.79),(7.6,-6.66),(8.1,-6.85),(9.6,-6.57),(9.9,-6.64),(11.5,-6.19),(11.5,-6.74),(14.1,-6.25),(15.3,-6.19),(15.3,-6.62),(17.2,-6.28),(16.9,-6.36),(20.5,-6.36),(21.1,-6.25),(22.1,-6.08),(23.4,-6.09),(23.6,-5.91),(24,-6.41),(25.3,-6.36),(21.9,-6.72),(22.2,-6.81),(23.4,-6.85),(18.2,-6.89),(16,-7),(15.7,-7.11),(17.2,-7.11),(21.1,-7.17),(24.2,-7.11),(19.6,-7.32),(20.2,-7.53),(20.1,-7.72),(14.6,-7.32),(16.2,-7.49),(16.9,-7.75),(14,-7.88),(13.1,-8.04),(15.3,-8.04),
(-.2,-7.39),(.8,-7.39),(2.7,-7.39),(3.8,-7.3),(4.3,-7.21),(4.4,-7.6),(6,-7.38),(5.6,-7.57),(7.2,-7.72),(8.6,-7.32),(9.1,-7.49),(10.2,-7.54),(11.1,-7.54),(-1.6,-7.76),(-.2,-7.88),(-12.7,-7.92),(-12,-8.09),(-11,-7.83),(-7.6,-8.09),(-6.6,-8.09),(-5.8,-8.09),(-6.5,-8.28),(-8.9,-8.36),(-1.1,-8.26),(-2.3,-8.47),(1,-8.25),(1.3,-8.47),(2.9,-8.31),(4.2,-8.31),(4.6,-8.7),(6.6,-8.58),(9.1,-8.36),(9.9,-8.42),(9.4,-8.57),(10.7,-8.21),(11.5,-8.58),(12.2,-8.58),(11.7,-8.66),(17.1,-8.42),(17.9,-8.25),(17.6,-8.51),(18.6,-8.42),(19.2,-8.36),(20,-8.26),(21.8,-7.72),(22.2,-7.79),(22.7,-7.75),(23.2,-7.66),(22.1,-8.13),(21.9,-8.26),(22.7,-8.15),(25.8,-7.69),(26.3,-7.59),(27,-7.28),(27.9,-7.08),(27.8,-7.23),(30.9,-7.15),(30.4,-7.34),(30.1,-7.54),(29.4,-6.62),(30.5,-6.68),(31.4,-6.62),(31,-6.36),(33,-6.57),
(-5,-8.91),(-3.6,-9.13),(-8.9,-8.96),(-10.6,-9.13),(-11.6,-9.4),(-8.8,-9.6),(-7.6,-9.57),(-8.6,-9.79),(-8.1,-9.85),(-13.6,-9.66),(-10.1,-10.06),(-9.5,-10.22),(-11.2,-10.17),(-12.5,-10.32),(-8.2,-10.43),(-3.7,-10.06),(-4.7,-10.83),(-4.1,-11.19),(-10.2,-10.98),(-12.7,-11.14),(-13.6,-11.79),(-5.4,-12.34),(-9.3,-13.53),(-10.8,-14.13),(-.7,-14.56),(7.3,-13.48),(8.3,-12.06),
(1.4,-8.85),(2.1,-8.9),(3.7,-9.08),(4.5,-9.02),(4.4,-9.4),(6.8,-9.34),(2.3,-9.88),(3.1,-10.38),(6,-10.28),(5.7,-10.4),(6.3,-10.76),(8.6,-10.09),(9.6,-9.88),(10.4,-9.57),(11.3,-9.72),(9.1,-10.49),(13.7,-8.85),(14.4,-8.75),(14.8,-9.13),(15.4,-9.11),(16.2,-9.08),(15.7,-9.26),(13.8,-9.45),(14,-10),(15.9,-10.43),(17.7,-9.88),(18.5,-9.94),(19.3,-10.43),(20.2,-10.22),(20.3,-8.75),(22.9,-8.96),(22.6,-9.23),(24.4,-8.7),(25.5,-8.8),(26.5,-8.8),(22.2,-9.6),(22.6,-9.74),(25.5,-9.88),(26.6,-9.83),(26.9,-10.02),(27.8,-9.94),(29.8,-8.64),(30.9,-8.52),(31.4,-8.64),(30.4,-9.13),(32.5,-9.62),(22.6,-10.66),(27.1,-10.66),(25.2,-10.98),(20.3,-11.25),(21,-11.19),(23.4,-11.25),(15.3,-11.63),(18.5,-11.91),(21.6,-11.91),(22.4,-11.68),(24.2,-11.79),(25.8,-12),(28,-11.91),(31.7,-11.51),(33.2,-12.28),
(1,-21.45),(9.6,-15.84),(1.8,-15.84),(-.6,-14.53)]

right_upper = [(35.1,-.04),(37.7,-.28),(35.9,-.56),(47.8,-.5),(44.1,-.88),(59.8,-.68),(59.6,-.71),(34,-.9),(34.1,-.94),(34.1,-1.3),(34.9,-1.43),(61.5,-2.99),(47.3,-1.86),(49.5,-1.86),(52.9,-2.18),(44.8,-2.07),(46.3,-2.23),(47.3,-2.56),(45.3,-2.56),(45.4,-2.82),(46.2,-2.82),(47.3,-2.93),(44.1,-2.93),(34.5,-1.94),(34.9,-2.18),(34.8,-2.44),(36.3,-2.22),(36.7,-2.41),(38.8,-2.23),(40.1,-2.18),(40.8,-2.67),(36,-2.82),(37.2,-2.88),(35.6,-3.26),(38.5,-3.26),(33.9,-3.23),(34.3,-3.53),(36.6,-3.61),(37.9,-3.63),(40.5,-3.42),(40.4,-3.57),(41.8,-3.2),(42.5,-3.08),(43,-3.16),(42.3,-3.35),(42.7,-3.57),(45.3,-3.68),(47.9,-3.68),(50.7,-3.61),(51.1,-3.83),(51.7,-3.76),(40.6,-4.08),(41.9,-3.91),(43.3,-4.1),(34.8,-4.02),(36.8,-4.29),(46.3,-4.14),(47.3,-4.25),(48.1,-4.2),(49,-4.06),(49,-4.25),(45,-4.29),(53.4,-4.19),(57.1,-4.11),(57.1,-4.41),(62.5,-3.98),(65.2,-4.02),(67.8,-3.96),(67.5,-4.25),(59.8,-4.62),(60.3,-4.62),(61.5,-4.56),(62.7,-4.56),(48.9,-4.5),(47.9,-4.77),(44.5,-4.56),(43.7,-4.66),(42.7,-4.66),(36.8,-4.62),(39.1,-4.66),(34.6,-4.62),(50.5,-4.7),(49.7,-4.85),(49.2,-5.08),(54.2,-5),(59.6,-5.1),(61.1,-5.04),(65.1,-4.94),(45.3,-4.85),(45.1,-5.08),(42.4,-4.92),(43.1,-5.11),(43.4,-5.3),(47.1,-5.15),(48.4,-5.3),(48.2,-5.53),(47.4,-5.53),(52,-5.26),(55.7,-5.43),(61.4,-5.49),(64.3,-5.53),(67.5,-5.49),(74.8,-5.43),(34.5,-4.81),(35.1,-4.89),(35.9,-5.11),(37.2,-4.89),(37.2,-5.11),(38.4,-5),(41.2,-5.3),(41.2,-5.53),(38.7,-5.41),(39.5,-5.4),(39,-5.71),
(53.3,-5.55),(53.6,-5.53),(50.2,-5.56),(49.7,-5.75),(59.4,-5.65),(58,-5.79),(58.7,-5.79),(58.7,-6.05),(59.3,-6.03),(57.8,-6.18),(61.1,-6.13),(63,-6.05),(63.3,-6.24),(62.8,-6.43),(65.1,-5.8),(66.5,-6.05),(67,-6.24),(67.3,-6.35),(63.9,-6.62),(67.8,-6.89),(76.6,-6.62),(54.1,-5.94),(54.7,-5.86),(55.4,-5.94),(56.2,-6.35),(51,-5.9),(51.8,-6.02),(52.5,-6.02),(51.3,-6.24),(52.3,-6.32),(50.7,-6.58),(51.5,-6.39),(51.5,-6.77),(46.9,-5.9),(47.7,-5.83),(48.7,-5.86),(49.7,-6.09),(47.9,-6.17),(47.4,-6.39),(46.7,-6.58),(45.9,-6.65),(45.7,-6.32),(48.6,-6.6),(44.7,-5.81),(42.1,-5.68),(42.9,-5.83),(43.8,-6.02),(43.8,-6.2),(42.2,-6.18),(43.1,-6.43),(40.8,-5.75),(35.9,-5.83),(36.7,-5.94),(35.3,-5.64),(34,-5.75),(34.8,-6.09),(34.8,-6.39),(35.3,-6.54),(33.9,-6.09),(38.5,-6.05),(38.7,-6.32),(39.4,-6.47),(39.6,-6.65),(37.4,-6.54),(38.1,-6.62),(41.8,-6.69),(41.8,-6.8),(44.4,-6.58),(45.1,-6.8),(46.2,-6.99),(49.2,-6.92),(50,-6.88),(50.2,-7.1),(49.7,-7.33),(37.4,-7.05),(38.5,-6.99),(38.9,-6.95),(41.3,-7.03),(42.1,-7.07),(43.1,-6.88),(43.1,-7.33),(33.8,-7.07),(34.6,-7.16),(35.9,-7.48),(36.8,-7.43),(47.5,-7.25),(53.3,-6.69),(52.9,-6.88),(53.8,-6.77),(52.5,-6.99),(52.9,-7.18),(54.6,-6.54),(55.2,-6.47),(55.2,-6.77),(56.2,-7.07),(56.7,-7.03),(57.7,-6.77),(58.7,-7.03),(59.6,-7.14),(59.5,-6.54),(60.3,-6.54),(60.5,-6.8),
(54.6,-7.18),(54.6,-7.37),(55.1,-7.26),(55.2,-7.52),(55.9,-7.59),(55.1,-7.74),(57.1,-7.65),(64.1,-7.38),(70.9,-7.54),(74.3,-7.71),(78,-7.97),(77.9,-7.88),(53.6,-7.76),(50.7,-7.56),(51.1,-7.74),(49.7,-7.86),(48.7,-7.74),(47.7,-7.86),(47.2,-7.93),(44.9,-7.52),(44.4,-7.56),(45.4,-7.52),(45.7,-7.67),(46.6,-7.71),(40.8,-7.44),(41.5,-7.63),(40.3,-7.82),(39.5,-7.59),(38.8,-8.03),(39.9,-7.97),(40.7,-8.16),(42.5,-8.08),(43.5,-8.12),(44.1,-7.97),(44.8,-7.89),(44.6,-8.31),(45.4,-8.2),(46.9,-8.2),(47.4,-8.46),(47.7,-7.93),
(51.6,-7.89),(52.3,-7.89),(52.9,-8.12),(52.5,-8.23),(53.3,-8.27),(54.6,-8.12),(55.2,-8.23),(56.2,-8.2),(55.7,-8.08),(55.1,-8.46),(55.9,-8.54),(57.2,-8.31),(58,-8.08),(57.3,-8.05),(56.5,-8.35),(58,-8.42),(57.2,-8.72),(57.9,-8.68),(57.5,-8.87),(58.8,-7.89),(59.8,-7.89),(60.1,-7.74),(60.8,-8),(61.4,-7.71),(62.3,-7.76),(61.3,-8.05),(60.1,-8.35),(60.8,-8.46),(61.6,-8.46),(60.6,-8.76),(61.8,-8.8),(59.7,-8.72),(60.8,-8.98),(62.6,-8.98),(63.4,-9.06),(62.8,-9.21),
(64.9,-7.93),(64.9,-8.52),(66.5,-8.2),(66.4,-8.57),(68.5,-8.27),(68.2,-8.46),(69.5,-8.23),(70.6,-8.14),(69.1,-8.57),(70.1,-8.42),(70.9,-8.57),(73.5,-8.2),(75,-8.35),(75.6,-8.8),(74.5,-9.16),(77.9,-9.11),(35.6,-8.41),(38,-8.41),(41.4,-8.41),(40.4,-8.57),(37.7,-8.85),(39.5,-8.83),(39.7,-8.95),(36.4,-9.06),(36.3,-9.25),(41.7,-8.83),(42.5,-8.83),(43,-8.46),(42.6,-8.65),(45.9,-8.57),(45.9,-8.76),(47.2,-8.91),(48,-8.8),(48.5,-8.68),(45.2,-9),(46.5,-9.06),(42.1,-9.17),(42.9,-9.23),(39,-9.21),(39.9,-9.29),(40.2,-9.47),(37.1,-9.55),(37.9,-9.44),(41.7,-9.36),(41.8,-9.55),(42.8,-9.66),(41.5,-9.77),(40.8,-9.85),(43.3,-10.04),(42.1,-9.85),
(45.7,-9.32),(45.1,-9.44),(45.4,-9.66),(46.2,-9.47),(45.9,-9.85),(46.7,-9.85),(47.4,-10.15),(48,-9.92),(48.7,-9.92),(44.4,-10.18),(47.3,-9.32),(48.5,-9.14),(49.7,-9.25),(50.5,-9.14),(49.8,-9.4),(51.5,-9.06),(52.6,-8.87),(53.4,-9.02),(52.1,-9.32),(52.9,-9.32),(51,-9.32),(54.6,-8.91),(56.4,-9.08),(54.4,-9.25),(55.4,-9.36),(58.2,-9.36),(58.8,-9.55),(61.7,-9.38),(63.3,-9.44),(62.6,-9.59),(64.4,-9.49),(67.8,-9.29),(68.8,-9.29),(69.3,-9.55),(67.8,-9.59),(71.3,-9.55),(71.8,-9.81),(72.2,-9.77),(51.1,-9.76),(52.3,-9.71),(69.1,-9.89),(67,-9.74),(66,-9.81),(65.1,-9.92),(64.1,-9.92),(62.9,-10.08),(63.3,-10),(63.7,-10.11),(60.3,-9.92),(61.1,-9.89),(58.7,-9.92),(59.2,-10.08),
(54.9,-7.95),(55.6,-7.85),(56.6,-7.9),(54.2,-8.3),(55.4,-8.35),(56.6,-8.1),(57.6,-8.5),(52,-8.05),(53,-7.95),(53.8,-8.4),(52.4,-8.5),(60.2,-8.6),(61.2,-8.65),(61.1,-8.3),(44.7,-7.7),(45.4,-7.85),(46.2,-7.55),(46,-7.9),(50.4,-7.95),(48.2,-8.05)]

right_lower = [(37.2,-10.43),(39.1,-10.37),(38.6,-10.81),(40.1,-10.69),(41.6,-10.81),(43,-10.65),(43.6,-10.97),(34.5,-11.4),(41.3,-11.23),(42,-11.38),(44.5,-11.38),(45.6,-11.49),(44.6,-10.9),(45.7,-10.82),(46.2,-11.04),(47,-10.9),(46.4,-10.6),(47.5,-10.75),(46.9,-11.38),(47.1,-11.53),(47.9,-11.23),(46.1,-11.83),(46.7,-11.87),(47.7,-11.94),(49.7,-11.98),(49.2,-12.16),(50.2,-12.37),(51.8,-12.15),(53.7,-12.07),(47.9,-12.28),(47.2,-12.57),(48.7,-12.46),(48.9,-12.72),(48.5,-12.85),
(48.7,-10.45),(49,-10.67),(50.2,-10.71),(50.3,-10.9),(49.2,-11.27),(51,-11.08),(51.6,-11.08),(50.5,-11.38),(51.3,-11.38),(50.7,-11.57),(51.5,-11.68),(52.1,-11.68),(52,-11.83),(52.8,-10.81),(53.4,-11.12),(53.6,-11.51),(54.2,-10.56),(54.9,-10.75),(55.2,-11.04),(55.4,-11.31),(56.9,-10.67),(57.7,-10.67),(58.4,-10.93),(56.5,-11.89),(58.4,-12.07),(60.9,-11.98),(59.8,-10.97),(60.1,-11.16),(59.7,-10.52),(60.8,-10.6),(60.5,-10.9),(61.3,-11.27),
(62.4,-10.82),(63.1,-10.9),(64.1,-11.12),(63.9,-11.38),(64.7,-10.82),(65.4,-10.52),(66.4,-10.75),(65.5,-10.97),(65.9,-11.19),(62.1,-11.64),(62.6,-11.68),(61.8,-11.83),(65.9,-11.53),(65.9,-11.83),(64.2,-11.94),(64.2,-12.2),(65.2,-12.13),(66.5,-11.25),(67.7,-11.25),(67.9,-10.81),(68.5,-11.08),(69.2,-10.71),(70,-10.82),(70.8,-10.78),(70.3,-11.12),(70.5,-11.34),(70.1,-11.53),(70.5,-11.75),(71.3,-11.12),(72.6,-10.75),(73.5,-10.63),(73.1,-10.97),(72.7,-11.31),(73.4,-11.16),(71.4,-11.6),(72.4,-11.57),(73.4,-11.6),(74.4,-11.57),(71.3,-11.9),(72.4,-11.9),(73.7,-11.9),(74.5,-11.98),(75.4,-12.24),(71.1,-12.28),(72.3,-12.24),(71.8,-12.57),(69.3,-12.43),(69.5,-12.8),(76.4,-10.97),(75.7,-11.28),(76.4,-11.51),(75.5,-11.68),(77,-12.09),(77.2,-12.37),(66.8,-12.31),(63.2,-12.35),(63.3,-12.61),(63.1,-12.72),(58.8,-12.31),(58.7,-12.5),(58.9,-12.72),(60.2,-12.48),(60.7,-12.8),(62.3,-12.85),(64.4,-12.7),(65.4,-12.72),(65.9,-12.8),(65.5,-12.95),(66.2,-13.1),(67.5,-13.17),(68.3,-13.17),(70.9,-12.99),(72.1,-12.97),(73.7,-12.95),(74.7,-12.61),(75.2,-12.84),(75.7,-13.06),(76.2,-13.13),(75,-13.21),(70.6,-13.13),(71.1,-13.32),(71.9,-13.36),(72.4,-13.54),(73.1,-13.4),(74.3,-13.51),(75.7,-13.47),(68,-13.6),(64.4,-13.21),(64.1,-13.43),(64.6,-13.62),(65.4,-13.54),(65.9,-13.43),(66.2,-13.81),
(52.8,-12.72),(53.1,-12.84),(55.2,-12.69),(55.5,-12.91),(57.1,-12.95),(56.9,-13.13),(58.2,-13.22),(59.7,-13.01),(59.7,-13.43),(61.5,-13.06),(61.6,-13.32),(57.5,-13.77),(61.3,-13.81),(60.8,-14.07),(61.5,-14.14),(63.1,-13.92),(63.8,-14.14),(76.2,-13.92),(76.8,-14.35),(77.2,-14.68),
(47.2,-13.17),(47.4,-13.58),(47.4,-13.73),(47.9,-14.03),(49.3,-13.43),(50,-13.92),(51.5,-13.02),(50.7,-12.99),(51.6,-13.28),(50.8,-13.47),(50.5,-13.77),(51.1,-13.77),(53.1,-13.1),(53.1,-13.32),(52.9,-14.07),(52.9,-14.22),(51.5,-14.51),(52.3,-14.4),(55.5,-14.19),(57.5,-14.18),(57.5,-14.44),(58.5,-14.44),(58.7,-14.7),(60.1,-14.66),(60.1,-14.81),(62,-14.51),(62,-14.78),(62.4,-14.78),(63.6,-14.63),(63.6,-14.95),(66,-14.66),(66,-14.81),(56.2,-14.63),(55.7,-14.85),(55.4,-15.04),(55.2,-15.3),(50,-15.11),(50.5,-15.43),(53.2,-15.71),(53.4,-15.86),(55,-16.08),(55.2,-16.34),(57.8,-15.49),(57.9,-15.82),(57.9,-16.12),(58.9,-15.31),(59.1,-15.66),(60.2,-15.6),(60.2,-15.78),(57.8,-16.72),(62.3,-15.49),(62.2,-16.13),(64.7,-15.91),(66,-15.87),(65.9,-15.15),(65.9,-15.37),(67,-15.26),(67,-15.49),(66.4,-16.72),(63.8,-17.05),
(70.5,-14.66),(71.7,-14.79),(73.2,-14.93),(75.3,-14.89),(70,-15.06),(69.1,-15.22),(70.6,-15.26),(71.8,-15.11),(72.1,-15.04),(73.9,-15.37),(74.9,-15.75),(75.2,-15.75),(76.1,-15.81),(77.5,-15.97),(69,-16.18),
(71.3,-15.52),(72.3,-15.49),(72.9,-15.6),(71.1,-15.71),(71.9,-15.75),(72.7,-15.75),(73.7,-15.75),(70.3,-16.08),(70.9,-16.04),(71.8,-15.93),(72.6,-16.04),(73.4,-16),(74.2,-16.04),(70.6,-16.34),(71.4,-16.31),(72.7,-16.27),(73.6,-16.31),(74.9,-16.23),(70.1,-16.57),(70.9,-16.49),(71.9,-16.53),(72.7,-16.49),(73.9,-16.57),(69.6,-16.68),(70.6,-16.72),(71.6,-16.72),(73.4,-16.72),(74.4,-16.64),(75.4,-16.64),(70.1,-16.98),(71.1,-17.05),(72.6,-16.9),(73.6,-16.9),(71.6,-17.13),(73.1,-17.2),(71.8,-17.35),(72.6,-17.43),(74.1,-17.35),(74.4,-17.54),(73.4,-17.5),(75.9,-16.98),(75.7,-17.16),(75.8,-17.37),(76.8,-17.09),(71.1,-17.61),(71.9,-17.54),(69.8,-17.54),(68.8,-17.61),(68.3,-17.8),(68.2,-17.98),(68.2,-18.1),(66.9,-18.22),(70.6,-17.84),(71.9,-17.8),(71.3,-18.06),(72.3,-18.02),(70.6,-18.1),(72.7,-18.17),(73.6,-18.22),(75.2,-18.12),(71.3,-18.25),(71.9,-18.28),(70.5,-18.43),(68.8,-18.49),(69.3,-18.54),(69.6,-18.66),(70.6,-18.58),(71.6,-18.58),(72.4,-18.54),(73.1,-18.62),(72.6,-18.4),(74.5,-18.57),(75.2,-18.49),(70.5,-18.82),(68,-19.03),(72.3,-18.81),(72.3,-18.99),(73.4,-18.92),(73.6,-19.03),(72.4,-19.14),(72.7,-19.37),(73.7,-19.31),(70.3,-19.19),(70.2,-19.44),(72.2,-19.63),(68.7,-19.74),(71.7,-20.22),(73.1,-21.86),(73.9,-21.45),
(71.1,-16.2),(72.1,-16.15),(73.1,-16.15),(72.1,-16.4),(73.2,-16.45),(71.2,-16.6),(72.3,-16.65),(73.2,-16.65),(72.1,-16.85),(73.1,-16.95),(72.2,-17.2),(73.2,-17.4),(72.9,-17.7),(71.5,-17.9),(71.6,-18.4),(73,-18.3),(64.9,-11.1),(65.1,-10.7),(66,-10.5),(64.4,-10.6),(71.4,-15.3),(73,-16.05)]

regions = [top_left, dense_blob, blob_fill, left_low, low_left_sparse, top_mid, under_curve, right_upper, right_lower]
points = np.array([p for region in regions for p in region])

fig = plt.figure(figsize=(23.46, 16.55), dpi=100)
ax = fig.add_axes([178.6 / 2346, 157 / 1655, 2126.4 / 2346, 1471.3 / 1655])
ax.set_facecolor("#EDEDED")
for spine in ax.spines.values():
    spine.set_visible(False)

ax.set_xlim(-60.44, 83.33)
ax.set_ylim(-26.96, 6.25)
ax.set_xticks(x_ticks)
ax.set_xticklabels(x_tick_labels)
ax.set_yticks(y_ticks)
ax.set_yticklabels(y_tick_labels)
ax.set_xticks(x_minor, minor=True)
ax.set_yticks(y_minor, minor=True)
ax.tick_params(axis="x", which="major", pad=9)
ax.tick_params(axis="both", which="major", length=7.2, width=1.3, color="#333333",
               labelcolor="#4D4D4D", labelsize=48)
ax.tick_params(axis="y", which="major", pad=5)
ax.tick_params(axis="both", which="minor", length=0)
ax.grid(which="major", color="white", linewidth=1.9)
ax.grid(which="minor", color="white", linewidth=1.5)
ax.set_axisbelow(True)

ax.scatter(points[:, 0], points[:, 1], s=90, color="black", linewidths=0, zorder=3)

cx = np.array(curve_x)
cy = np.array(curve_y)
ci = np.array(curve_ci)
ax.fill_between(cx, cy - ci, cy + ci, color="#999999", alpha=0.4, linewidth=0, zorder=4)
ax.plot(cx, cy, color="#EE1C25", linewidth=3.4, zorder=5, solid_capstyle="butt")

ax.set_xlabel("x", fontsize=50, color="black", labelpad=8, x=0.504)
ax.set_ylabel("y", fontsize=50, color="black", labelpad=3)

fig.savefig("out.png", dpi=100)
